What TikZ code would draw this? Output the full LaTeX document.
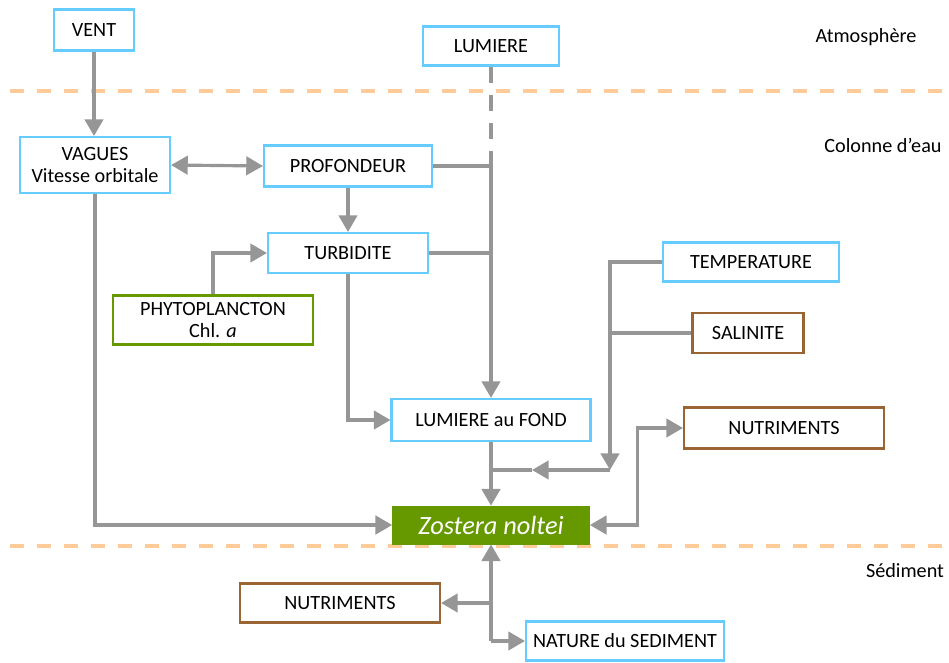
\documentclass[tikz,border=0pt]{standalone}
\usepackage{fontspec}
\setmainfont{Carlito}
\usetikzlibrary{positioning}
\usetikzlibrary{arrows.meta}
\definecolor{bleuclair}{RGB}{102,204,255}
\definecolor{brun}{RGB}{153,102,51}
\definecolor{vertz}{RGB}{102,153,0}
\definecolor{grislien}{RGB}{150,150,150}
\definecolor{orangetir}{RGB}{255,204,153}
\tikzset{
  boite/.style={draw,line width=1.2pt,fill=white,inner sep=0pt,align=center,
                font=\fontsize{11.5}{13}\selectfont},
  boitebleue/.style={boite,draw=bleuclair},
  boitebrune/.style={boite,draw=brun},
  boiteverte/.style={boite,draw=vertz},
  boitezost/.style={fill=vertz,draw=vertz,text=white,inner sep=0pt,
                font=\fontsize{15}{18}\selectfont\itshape},
  zone/.style={font=\fontsize{11.5}{13}\selectfont},
  trait/.style={draw=grislien,line width=1.8pt},
  lien/.style={trait,-{Triangle[length=9.5pt,width=10.5pt]}},
  lienbi/.style={trait,{Triangle[length=9.5pt,width=10.5pt]}-{Triangle[length=9.5pt,width=10.5pt]}},
  pointille/.style={trait,dash pattern=on 0.32cm off 0.24cm},
  separation/.style={draw=orangetir,line width=2.2pt,dash pattern=on 0.28cm off 0.26cm}
}
\begin{document}
\begin{tikzpicture}[x=0.02cm,y=-0.02cm]
  \useasboundingbox (0,0) rectangle (949,662);
  % limites atmosphere / eau / sediment
  \draw[separation] (10,91)  -- (949,91);
  \draw[separation] (10,546) -- (949,546);
  \node[zone] (natm) at (866,37)  {Atmosphère};
  \node[zone] (ncol) at (883,145) {Colonne d’eau};
  \node[zone] (nsdl) at (905,571) {Sédiment};
  % boites du haut
  \node[boitebleue,minimum width=1.6cm,minimum height=0.82cm]  (nvent) at (94,30)  {VENT};
  \node[boitebleue,minimum width=2.72cm,minimum height=0.78cm] (nlum)  at (491,46) {LUMIERE};
  \node[boitebleue,minimum width=3.0cm,minimum height=1.12cm]  (nvag)  at (95,165)
       {VAGUES\\Vitesse orbitale};
  \node[boitebleue,minimum width=3.36cm,minimum height=0.82cm] (nprof) at (348,166) {PROFONDEUR};
  \node[boitebleue,minimum width=3.2cm,minimum height=0.8cm]   (nturb) at (348,253) {TURBIDITE};
  \node[boiteverte,minimum width=4.0cm,minimum height=0.98cm]  (nphyto) at (213,320)
       {PHYTOPLANCTON\\Chl. \textit{a}};
  \node[boitebleue,minimum width=3.98cm,minimum height=0.84cm] (nfond) at (491,420) {LUMIERE au FOND};
  % boites de droite
  \node[boitebleue,minimum width=3.52cm,minimum height=0.78cm] (ntemp) at (751,262) {TEMPERATURE};
  \node[boitebrune,minimum width=2.22cm,minimum height=0.8cm]  (nsal)  at (748,333) {SALINITE};
  \node[boitebrune,minimum width=4.0cm,minimum height=0.82cm]  (nnutr) at (784,428) {NUTRIMENTS};
  % zostere et sediment
  \node[boitezost,minimum width=3.94cm,minimum height=0.76cm]  (nzost) at (491,525) {Zostera noltei};
  \node[boitebrune,minimum width=4.0cm,minimum height=0.78cm]  (nnutb) at (340,603) {NUTRIMENTS};
  \node[boitebleue,minimum width=3.96cm,minimum height=0.78cm] (nsed)  at (625,641) {NATURE du SEDIMENT};
  % points de jonction
  \coordinate (jlum)  at (491,152);
  \coordinate (jtemp) at (610,470);
  \coordinate (jmid)  at (532,470);
  \coordinate (jfond) at (491,470);
  \coordinate (jbas)  at (491,641);
  % liens du haut
  \draw[lien]   (nvent.south) -- (nvent.south |- nvag.north);
  \draw[lienbi] (nvag.east) -- (nprof.west);
  \draw[lien]   (nprof.south) -- (nturb.north);
  \draw[lien]   (nphyto.north) |- (nturb.west);
  \draw[lien]   (nturb.south) |- (nfond.west);
  \draw[pointille] (nlum.south) -- (jlum);
  \draw[lien]   (jlum) -- (nfond.north);
  \draw[trait]  (nprof.east) -- (nprof.east -| jlum);
  \draw[trait]  (nturb.east) -- (nturb.east -| jlum);
  \draw[lien]   (nvag.south) |- (nzost.west);
  % liens vers la zostere
  \draw[lien]   (nfond.south) -- (nzost.north);
  \draw[trait]  (nsal.west) -- (nsal.west -| jtemp);
  \draw[lien]   (ntemp.west) -| (jtemp);
  \draw[lien]   (jtemp) -- (jmid);
  \draw[trait]  (jmid) -- (jfond);
  \draw[lienbi] (nzost.east) -- ++(48,0) |- (nnutr.west);
  % liens du sediment
  \draw[lien]   (jbas) -- (nzost.south);
  \draw[lien]   (jbas |- nnutb.east) -- (nnutb.east);
  \draw[lien]   (jbas) -- (nsed.west);
\end{tikzpicture}
\end{document}
